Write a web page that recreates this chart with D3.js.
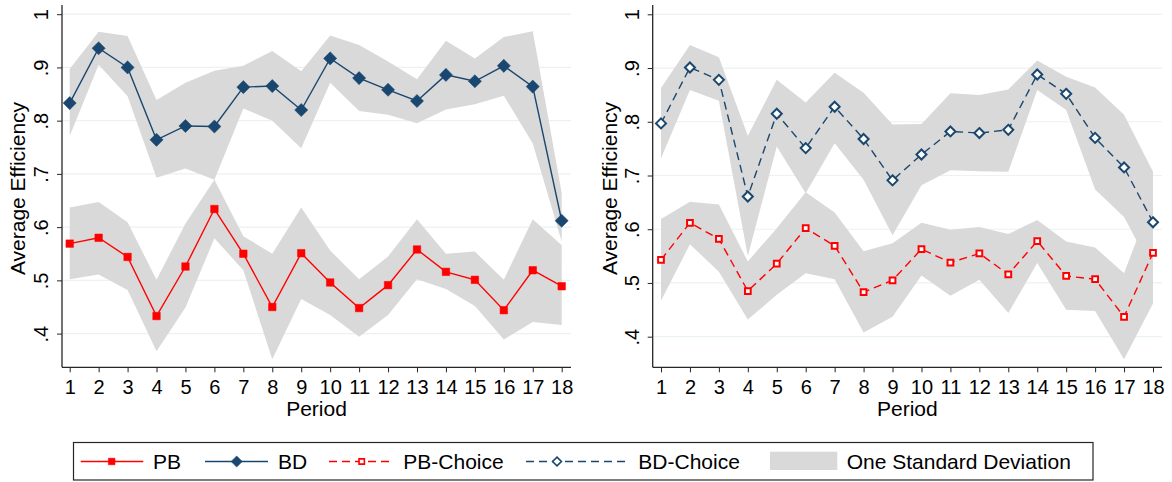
<!DOCTYPE html>
<html>
<head>
<meta charset="utf-8">
<script src="https://cdn.jsdelivr.net/npm/d3@7"></script>
<style>
  body { margin: 0; background: #fff; }
  svg { display: block; font-family: "Liberation Sans", Arial, sans-serif; }
</style>
</head>
<body>
<div id="chart"></div>
<script>
// data
var periods = d3.range(1, 19);
var yTicks = [0.4, 0.5, 0.6, 0.7, 0.8, 0.9, 1];

// left panel: PB and BD
var pb   = [0.569,0.580,0.544,0.433,0.526,0.634,0.550,0.450,0.551,0.496,0.448,0.491,0.558,0.516,0.501,0.444,0.519,0.489];
var pbHi = [0.637,0.647,0.609,0.501,0.607,0.689,0.583,0.550,0.637,0.556,0.502,0.545,0.615,0.550,0.554,0.501,0.615,0.566];
var pbLo = [0.502,0.511,0.482,0.367,0.449,0.579,0.519,0.352,0.465,0.435,0.394,0.435,0.502,0.484,0.452,0.389,0.422,0.416];

var bd   = [0.833,0.936,0.900,0.764,0.790,0.789,0.863,0.865,0.820,0.917,0.880,0.858,0.837,0.886,0.874,0.903,0.864,0.612];
var bdHi = [0.897,0.967,0.959,0.839,0.871,0.894,0.903,0.931,0.893,0.960,0.942,0.911,0.878,0.950,0.917,0.957,0.968,0.664];
var bdLo = [0.771,0.905,0.846,0.693,0.710,0.689,0.823,0.800,0.748,0.871,0.818,0.811,0.795,0.821,0.831,0.847,0.757,0.573];

// right panel: PB-Choice and BD-Choice
var pbc   = [0.543,0.612,0.582,0.485,0.536,0.602,0.569,0.483,0.505,0.563,0.538,0.555,0.516,0.578,0.513,0.507,0.437,0.556];
var pbcHi = [0.619,0.651,0.646,0.540,0.602,0.669,0.631,0.559,0.574,0.612,0.599,0.604,0.591,0.617,0.577,0.566,0.518,0.660];
var pbcLo = [0.467,0.572,0.521,0.432,0.478,0.518,0.507,0.408,0.437,0.514,0.476,0.506,0.444,0.537,0.450,0.448,0.358,0.462];

var bdc   = [0.797,0.901,0.878,0.661,0.815,0.751,0.828,0.768,0.691,0.739,0.782,0.779,0.785,0.888,0.852,0.770,0.715,0.613];
var bdcHi = [0.863,0.943,0.920,0.774,0.878,0.836,0.891,0.854,0.795,0.796,0.853,0.850,0.860,0.914,0.884,0.864,0.813,0.707];
var bdcLo = [0.732,0.859,0.839,0.550,0.754,0.667,0.760,0.692,0.589,0.682,0.710,0.708,0.707,0.859,0.822,0.674,0.623,0.521];

var legendNames = ["PB", "BD", "PB-Choice", "BD-Choice", "One Standard Deviation"];

var red = "#ff0000", navy = "#1a476f", band = "#d9d9d9", grid = "#eaf2f3", ink = "#262626";
var tickFont = 20, titleFont = 21;

var svg = d3.select("#chart").append("svg").attr("width", 1172).attr("height", 482);

function fmt(v) {
  if (v === 1) return "1";
  return d3.format(".1f")(v).replace(/^0/, "");
}

var diamond = d3.symbol().type(d3.symbolDiamond2);
var square = d3.symbol().type(d3.symbolSquare2);

var panels = [
  { left: 62, right: 571, xr: [69.7, 561.7], yr: [333.6, 14.2], title: 25,
    series: [
      { v: pb, lo: pbLo, hi: pbHi, color: red, dash: null, sym: square, hollow: false, size: 72 },
      { v: bd, lo: bdLo, hi: bdHi, color: navy, dash: null, sym: diamond, hollow: false, size: 110 }
    ] },
  { left: 652.7, right: 1162, xr: [661, 1153], yr: [336.7, 14.3], title: 617,
    series: [
      { v: pbc, lo: pbcLo, hi: pbcHi, color: red, dash: "8,5", sym: square, hollow: true, size: 42 },
      { v: bdc, lo: bdcLo, hi: bdcHi, color: navy, dash: "8,5", sym: diamond, hollow: true, size: 64 }
    ] }
];

var axisY = 367.3, axisTop = 5;

panels.forEach(function (p) {
  var x = d3.scaleLinear().domain([1, 18]).range(p.xr);
  var y = d3.scaleLinear().domain([0.4, 1]).range(p.yr);
  var g = svg.append("g");

  // gridlines
  g.selectAll("line.grid").data(yTicks).enter().append("line")
    .attr("x1", p.left).attr("x2", p.right)
    .attr("y1", function (d) { return y(d); }).attr("y2", function (d) { return y(d); })
    .attr("stroke", grid).attr("stroke-width", 1.2);

  // bands
  p.series.forEach(function (s) {
    var area = d3.area()
      .x(function (d, i) { return x(periods[i]); })
      .y0(function (d, i) { return y(s.lo[i]); })
      .y1(function (d, i) { return y(s.hi[i]); });
    g.append("path").datum(s.v).attr("d", area).attr("fill", band);
  });

  // lines + markers
  p.series.forEach(function (s) {
    var line = d3.line().x(function (d, i) { return x(periods[i]); }).y(function (d) { return y(d); });
    g.append("path").datum(s.v).attr("d", line)
      .attr("fill", "none").attr("stroke", s.color).attr("stroke-width", 1.4)
      .attr("stroke-dasharray", s.dash);
    g.selectAll(null).data(s.v).enter().append("path")
      .attr("transform", function (d, i) { return "translate(" + x(periods[i]) + "," + y(d) + ")"; })
      .attr("d", s.sym.size(s.size)())
      .attr("fill", s.hollow ? "#fff" : s.color)
      .attr("stroke", s.color).attr("stroke-width", s.hollow ? 2 : 0.5);
  });

  // y axis
  var ya = g.append("g").attr("transform", "translate(" + p.left + ",0)")
    .call(d3.axisLeft(y).tickValues(yTicks).tickFormat(fmt).tickSize(5).tickSizeOuter(0));
  ya.select(".domain").remove();
  ya.selectAll("line").attr("stroke", ink);
  ya.selectAll("text")
    .attr("transform", "rotate(-90)").attr("x", 0).attr("y", -14).attr("dy", 0)
    .attr("text-anchor", "middle").attr("font-size", tickFont).attr("fill", "#000");
  g.append("line").attr("x1", p.left).attr("x2", p.left).attr("y1", axisTop).attr("y2", axisY)
    .attr("stroke", ink).attr("stroke-width", 1.3);

  // x axis
  var xa = g.append("g").attr("transform", "translate(0," + axisY + ")")
    .call(d3.axisBottom(x).tickValues(periods).tickFormat(d3.format("d")).tickSize(5).tickPadding(8).tickSizeOuter(0));
  xa.select(".domain").remove();
  xa.selectAll("line").attr("stroke", ink);
  xa.selectAll("text").attr("font-size", tickFont).attr("fill", "#000");
  g.append("line").attr("x1", p.left).attr("x2", p.right).attr("y1", axisY).attr("y2", axisY)
    .attr("stroke", ink).attr("stroke-width", 1.3);

  g.append("text").attr("x", (p.left + p.right) / 2).attr("y", 416)
    .attr("text-anchor", "middle").attr("font-size", titleFont).text("Period");
  g.append("text").attr("transform", "translate(" + p.title + ",188.5) rotate(-90)")
    .attr("text-anchor", "middle").attr("font-size", titleFont).text("Average Efficiency");
});

// legend
var lg = svg.append("g");
lg.append("rect").attr("x", 73.5).attr("y", 442.5).attr("width", 1019.5).attr("height", 37.5)
  .attr("fill", "#fff").attr("stroke", ink).attr("stroke-width", 1.2);

var ly = 461.5, lty = 468.8;
var keys = [
  { x1: 80.7, x2: 143.3, m: 111.7, t: 153, color: red, dash: null, sym: square, hollow: false, size: 56 },
  { x1: 205, x2: 268, m: 236.7, t: 278, color: navy, dash: null, sym: diamond, hollow: false, size: 80 },
  { x1: 329, x2: 393, m: 361.7, t: 403.3, color: red, dash: "8,5", sym: square, hollow: true, size: 36 },
  { x1: 526, x2: 628, m: 557, t: 638.3, color: navy, dash: "8,5", sym: diamond, hollow: true, size: 50 }
];
keys.forEach(function (k, i) {
  lg.append("line").attr("x1", k.x1).attr("x2", k.x2).attr("y1", ly).attr("y2", ly)
    .attr("stroke", k.color).attr("stroke-width", 1.4).attr("stroke-dasharray", k.dash);
  lg.append("path").attr("transform", "translate(" + k.m + "," + ly + ")")
    .attr("d", k.sym.size(k.size)())
    .attr("fill", k.hollow ? "#fff" : k.color)
    .attr("stroke", k.color).attr("stroke-width", k.hollow ? 1.6 : 0.5);
  lg.append("text").attr("x", k.t).attr("y", lty).attr("font-size", titleFont).text(legendNames[i]);
});
lg.append("rect").attr("x", 770).attr("y", 451.7).attr("width", 67.3).attr("height", 18.3).attr("fill", band);
lg.append("text").attr("x", 846.7).attr("y", lty).attr("font-size", titleFont).text(legendNames[4]);
</script>
</body>
</html>
